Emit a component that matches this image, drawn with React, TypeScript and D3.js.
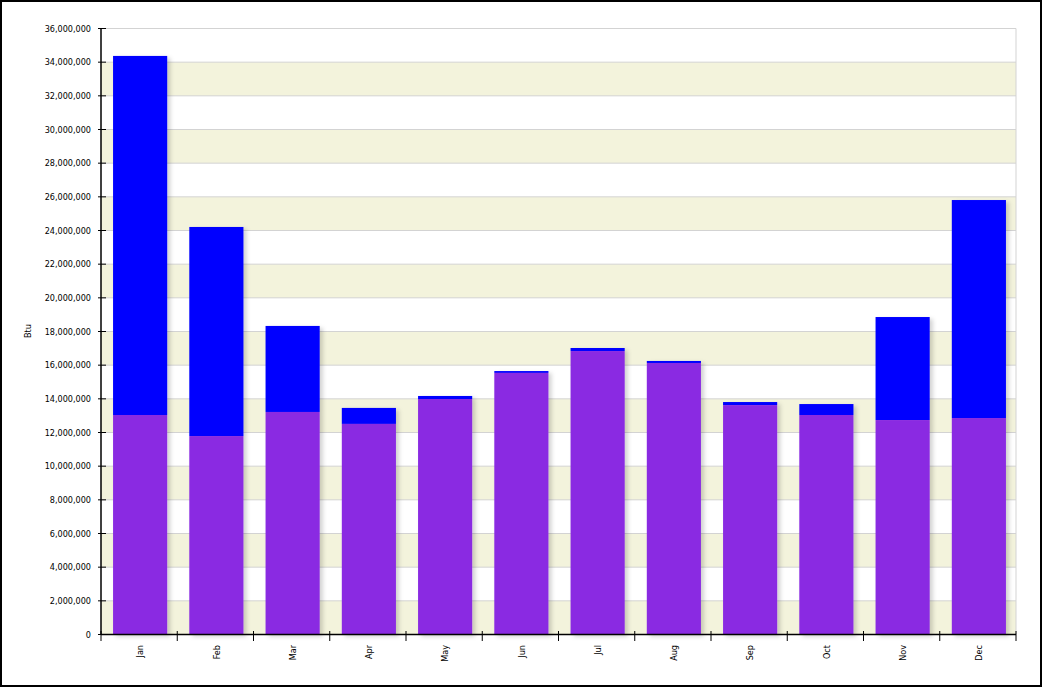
import React from "react";
import * as d3 from "d3";

const months = ["Jan", "Feb", "Mar", "Apr", "May", "Jun", "Jul", "Aug", "Sep", "Oct", "Nov", "Dec"];
const baseSeries = [13040000, 11790000, 13220000, 12510000, 13990000, 15540000, 16840000, 16130000, 13630000, 13040000, 12740000, 12860000];
const topSeries = [21330000, 12420000, 5110000, 950000, 180000, 110000, 180000, 120000, 180000, 650000, 6120000, 12950000];
const yTicks = d3.range(0, 36000001, 2000000);
const yLabel = "Btu";

const W = 1042, H = 687;
const left = 101, right = 1016, top = 28.5, bottom = 634.5;

export default function App() {
  const x = d3.scaleBand<string>().domain(months).range([left + 1, right + 1]).paddingInner(0.29).paddingOuter(0.145);
  const y = d3.scaleLinear().domain([0, 36000000]).range([bottom, top]);
  const fmt = d3.format(",");
  const font = "'DejaVu Sans Condensed', 'DejaVu Sans', sans-serif";
  const bandStep = (right - left) / months.length;
  return (
    <svg width={W} height={H} style={{ position: "absolute", left: 0, top: 0, background: "#fff" }}>
      <defs>
        <filter id="sh" x="-20%" y="-5%" width="150%" height="115%">
          <feDropShadow dx="3" dy="2" stdDeviation="2" floodColor="#000" floodOpacity="0.18" />
        </filter>
      </defs>
      <rect x={1} y={1} width={W - 2} height={H - 2} fill="#fff" stroke="#000" strokeWidth={2} />
      {yTicks.slice(0, -1).map((t, i) =>
        i % 2 === 0 ? (
          <rect key={"b" + i} x={left} width={right - left} y={y(t + 2000000)} height={y(t) - y(t + 2000000)} fill="#F3F3DC" />
        ) : null
      )}
      {yTicks.slice(1).map((t) => (
        <line key={"g" + t} x1={left} x2={right} y1={y(t)} y2={y(t)} stroke="#d3d3d3" strokeWidth={1} />
      ))}
      <line x1={right} x2={right} y1={top} y2={bottom} stroke="#d3d3d3" strokeWidth={1} />
      {months.map((m, i) => {
        const bx = x(m)!;
        const bw = x.bandwidth();
        const b = baseSeries[i];
        const t = topSeries[i];
        return (
          <g key={m} filter="url(#sh)">
            <rect x={bx} width={bw} y={y(b + t)} height={y(b) - y(b + t)} fill="#0000FF" />
            <rect x={bx} width={bw} y={y(b)} height={y(0) - y(b)} fill="#8A2BE2" />
          </g>
        );
      })}
      <line x1={left} x2={left} y1={top} y2={bottom} stroke="#000" strokeWidth={1.5} />
      <line x1={left} x2={right} y1={bottom} y2={bottom} stroke="#000" strokeWidth={1.5} />
      {yTicks.map((t) => (
        <g key={"t" + t}>
          <line x1={98} x2={106} y1={y(t)} y2={y(t)} stroke="#000" strokeWidth={1} />
          <text x={91} y={y(t)} dy="0.35em" textAnchor="end" fontFamily={font} fontSize={9} fill="#000">
            {fmt(t)}
          </text>
        </g>
      ))}
      {d3.range(months.length + 1).map((i) => (
        <line key={"xt" + i} x1={left + i * bandStep} x2={left + i * bandStep} y1={631} y2={641} stroke="#000" strokeWidth={1} />
      ))}
      {months.map((m) => {
        const cx = x(m)! + x.bandwidth() / 2;
        return (
          <text key={"xl" + m} transform={`translate(${cx},645) rotate(-90)`} textAnchor="end" dy="0.35em" fontFamily={font} fontSize={9} fill="#000">
            {m}
          </text>
        );
      })}
      <text transform={`translate(28,331) rotate(-90)`} textAnchor="middle" dy="0.35em" fontFamily={font} fontSize={9} fill="#000">
        {yLabel}
      </text>
    </svg>
  );
}
